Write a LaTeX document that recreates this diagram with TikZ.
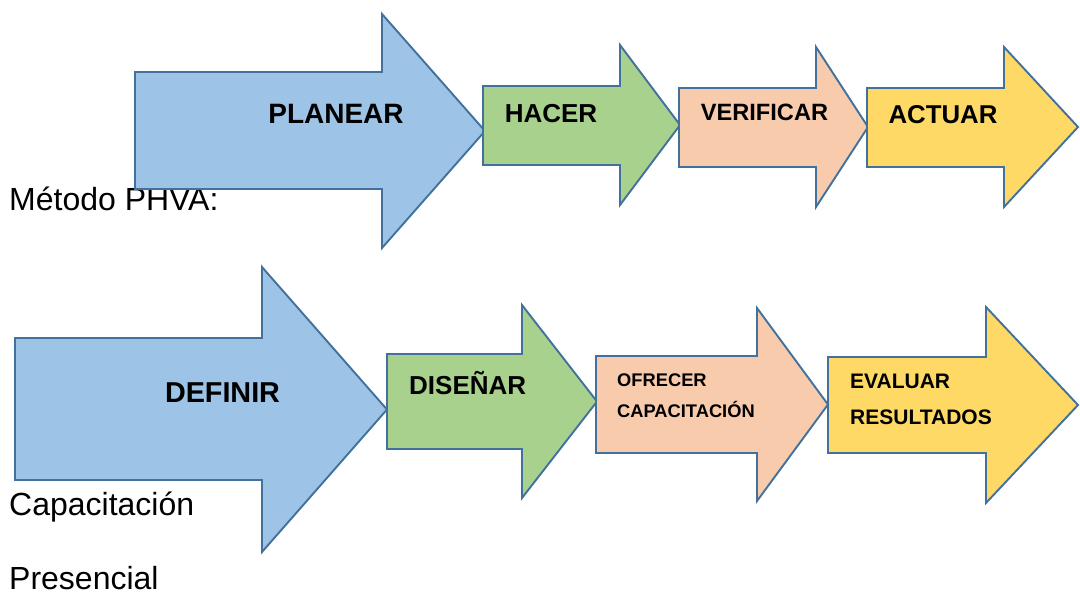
\documentclass[tikz,border=0pt]{standalone}
\usepackage{fontspec}
\setmainfont{Liberation Sans}
\definecolor{edgeblue}{HTML}{41719C}
\definecolor{fblue}{HTML}{9DC3E6}
\definecolor{fgreen}{HTML}{A9D18E}
\definecolor{forange}{HTML}{F8CBAD}
\definecolor{fyellow}{HTML}{FFD966}
\newcommand\blockarrow[9]{%
  \filldraw[arrowshape,fill=#1] (#2,#3) -- (#5,#3) -- (#5,#6) -- (#8,#9) -- (#5,#7) -- (#5,#4) -- (#2,#4) -- cycle;}
\tikzset{
  arrowshape/.style={draw=edgeblue,line width=1.9pt,line join=miter},
  plain/.style={anchor=base west,inner sep=0pt,font=\fontsize{32}{38}\selectfont},
  lab/.style={anchor=base,inner sep=0pt},
  labw/.style={anchor=base west,inner sep=0pt}
}
\begin{document}
\begin{tikzpicture}[x=1pt,y=-1pt]
\useasboundingbox (0,0) rectangle (1080,595);
\node[plain] (metodo) at (9,210) {Método PHVA:};
\node[plain] (capac) at (9,515) {Capacitación};
\node[plain] (presen) at (9,589) {Presencial};
% top row
\blockarrow{fblue}{135}{72}{189}{382}{14}{248}{485}{131}
\blockarrow{fgreen}{483}{86}{165}{620}{45}{205}{680}{125}
\blockarrow{forange}{679}{88}{167}{816}{47}{207}{868}{127}
\blockarrow{fyellow}{867}{88}{167}{1004}{47}{207}{1078}{127}
\node[lab,font=\bfseries\fontsize{28}{34}\selectfont] (planear) at (336,123) {PLANEAR};
\node[lab,font=\bfseries\fontsize{26}{31}\selectfont] (hacer) at (551,122) {HACER};
\node[lab,font=\bfseries\fontsize{23.6}{28}\selectfont] (verificar) at (764.5,120.5) {VERIFICAR};
\node[lab,font=\bfseries\fontsize{25.8}{31}\selectfont] (actuar) at (943,123.7) {ACTUAR};
% bottom row
\blockarrow{fblue}{15}{338}{480}{262}{267}{552}{387}{409.5}
\blockarrow{fgreen}{387}{354}{449}{522}{305}{498}{597}{401.5}
\blockarrow{forange}{596}{356}{453}{757}{308}{501}{828}{404.5}
\blockarrow{fyellow}{828}{357}{453}{986}{307}{503}{1078}{405}
\node[lab,font=\bfseries\fontsize{28.75}{34}\selectfont] (definir) at (222.5,402) {DEFINIR};
\node[lab,font=\bfseries\fontsize{26}{31}\selectfont] (disenar) at (467.7,394) {DISEÑAR};
\node[labw,font=\bfseries\fontsize{18.3}{22}\selectfont] (ofrecer) at (617,386) {OFRECER};
\node[labw,font=\bfseries\fontsize{18.3}{22}\selectfont] (capacit) at (617,417) {CAPACITACIÓN};
\node[labw,font=\bfseries\fontsize{21}{25}\selectfont] (evaluar) at (850,388.3) {EVALUAR};
\node[labw,font=\bfseries\fontsize{21}{25}\selectfont] (resultados) at (850,424.2) {RESULTADOS};
\end{tikzpicture}
\end{document}
